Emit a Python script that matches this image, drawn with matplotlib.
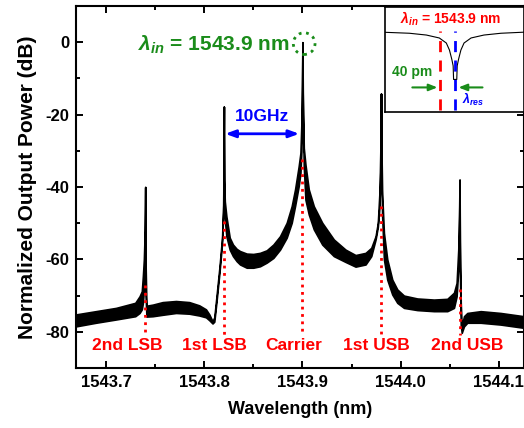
"""Electro-optic comb spectrum with carrier and sidebands, plus resonance inset."""

import matplotlib
matplotlib.use('Agg')
import matplotlib.pyplot as plt
from matplotlib.patches import Ellipse
from matplotlib.ticker import MultipleLocator, FormatStrFormatter

plt.rcParams['font.family'] = ['Liberation Sans', 'DejaVu Sans']
plt.rcParams['font.weight'] = 'bold'
plt.rcParams['axes.labelweight'] = 'bold'
plt.rcParams['axes.unicode_minus'] = False
plt.rcParams['mathtext.fontset'] = 'custom'
plt.rcParams['mathtext.it'] = 'Liberation Sans:italic:bold'
plt.rcParams['mathtext.rm'] = 'Liberation Sans:bold'

# spectrum envelope (nm, upper dB, lower dB)
wl = [1543.6695, 1543.6898, 1543.7102, 1543.7298, 1543.7342, 1543.7365, 1543.7376,
      1543.7386, 1543.7395, 1543.7400, 1543.7404, 1543.7412, 1543.7476, 1543.7577,
      1543.7713, 1543.7848, 1543.7950, 1543.8018, 1543.8052, 1543.8085, 1543.8103,
      1543.8126, 1543.8156, 1543.8182, 1543.8194, 1543.8200, 1543.8203, 1543.8210,
      1543.8226, 1543.8260, 1543.8293, 1543.8331, 1543.8365, 1543.8433, 1543.8500,
      1543.8568, 1543.8636, 1543.8704, 1543.8772, 1543.8840, 1543.8891, 1543.8925,
      1543.8962, 1543.8980, 1543.8990, 1543.8996, 1543.9000, 1543.9004, 1543.9014,
      1543.9031, 1543.9065, 1543.9116, 1543.9202, 1543.9320, 1543.9439, 1543.9541,
      1543.9643, 1543.9701, 1543.9745, 1543.9768, 1543.9786, 1543.9795, 1543.9800,
      1543.9805, 1543.9812, 1543.9830, 1543.9864, 1543.9915, 1543.9966, 1544.0034,
      1544.0170, 1544.0339, 1544.0475, 1544.0543, 1544.0570, 1544.0587, 1544.0595,
      1544.0600, 1544.0603, 1544.0612, 1544.0622, 1544.0645, 1544.0679, 1544.0815,
      1544.1018, 1544.1255]
upper = [-75.2, -74.3, -73.4, -72.0, -70.2, -68.8, -64.6,
         -60.0, -52.0, -40.0, -62.0, -72.8, -72.5, -71.8,
         -71.5, -71.8, -72.7, -73.8, -75.2, -77.1, -76.0,
         -70.0, -62.0, -54.0, -45.0, -17.8, -38.0, -44.0,
         -48.1, -54.0, -55.9, -57.1, -57.7, -58.4, -58.5,
         -58.2, -57.5, -55.9, -53.6, -49.9, -45.3, -40.7,
         -34.3, -30.6, -22.3, -12.0, 0.0, -14.0, -29.2,
         -33.8, -40.7, -45.3, -49.9, -54.5, -57.3, -58.8,
         -58.2, -56.8, -53.6, -49.9, -40.7, -28.0, -14.2,
         -30.0, -42.0, -52.7, -60.0, -65.6, -68.3, -70.0,
         -70.8, -71.1, -70.9, -69.2, -66.5, -57.3, -48.0,
         -38.0, -55.0, -72.0, -78.5, -75.7, -74.8, -74.3,
         -74.8, -75.7]
lower = [-78.5, -77.5, -76.6, -75.7, -74.8, -73.8, -72.0,
         -68.3, -62.0, -40.0, -70.0, -75.8, -75.7, -75.3,
         -74.8, -75.0, -75.5, -76.0, -76.8, -77.7, -77.2,
         -71.5, -63.5, -55.5, -47.0, -17.8, -42.0, -49.0,
         -53.6, -57.3, -59.1, -60.5, -61.4, -62.3, -62.3,
         -61.9, -60.9, -59.6, -57.3, -54.0, -49.9, -45.3,
         -39.8, -36.1, -30.0, -20.0, 0.0, -20.0, -34.3,
         -43.5, -47.6, -51.7, -55.9, -59.1, -60.7, -62.0,
         -61.4, -59.1, -54.5, -51.0, -45.0, -34.0, -14.2,
         -38.0, -48.0, -60.0, -65.6, -69.7, -72.0, -73.4,
         -74.0, -74.3, -74.3, -73.4, -70.2, -62.8, -54.0,
         -38.0, -62.0, -78.0, -80.3, -78.5, -77.5, -77.5,
         -78.0, -78.9]

# carrier and sidebands
sb_names = ['2nd LSB', '1st LSB', 'Carrier', '1st USB', '2nd USB']
sb_wl = [1543.74, 1543.82, 1543.90, 1543.98, 1544.06]
sb_line_top = [-67.0, -49.4, -32.4, -45.3, -68.3]
sb_label_x = [1543.722, 1543.810, 1543.8915, 1543.9757, 1544.0673]

# inset: ring resonance (pm offset from resonance, normalized transmission)
res_pm = [-190, -124, -78, -43, -24, -15.5, -9, -5.5, -4.3,
          4.3, 5.5, 9, 15.5, 24, 43, 78, 124, 185]
res_t = [0.759, 0.75, 0.733, 0.705, 0.657, 0.59, 0.50, 0.44, 0.31,
         0.31, 0.44, 0.50, 0.59, 0.657, 0.705, 0.733, 0.75, 0.76]

RED = '#ff0000'
BLUE = '#0000ff'
GREEN = '#1a8c1a'

fig = plt.figure(figsize=(5.24, 4.28), dpi=100)
ax = fig.add_axes([76 / 524, 1 - 368 / 428, 447.5 / 524, 362 / 428])

ax.fill_between(wl, lower, upper, facecolor='black', edgecolor='black', linewidth=1.2)

for x, top in zip(sb_wl, sb_line_top):
    ax.plot([x, x], [top, -81], color=RED, linestyle=':', linewidth=2)
for name, x in zip(sb_names, sb_label_x):
    ax.text(x, -83.8, name, color=RED, fontsize=12.5, ha='center', va='center')

ax.text(1543.7329, -0.6, r'$\lambda_{in}$ = 1543.9 nm', color=GREEN, fontsize=15,
        ha='left', va='center')
ax.add_patch(Ellipse((1543.9018, -0.4), 0.0221, 6.0, fill=False, edgecolor=GREEN,
                     linestyle=':', linewidth=2))

ax.annotate('', xy=(sb_wl[2] - 0.0032, -25.3), xytext=(sb_wl[1] + 0.0014, -25.3),
            arrowprops=dict(arrowstyle='<|-|>,head_length=0.6,head_width=0.22',
                            color=BLUE, lw=2, shrinkA=0, shrinkB=0))
ax.text(1543.8592, -20.4, '10GHz', color=BLUE, fontsize=12.5, ha='center', va='center')

ax.set_xlim(1543.6695, 1544.1251)
ax.set_ylim(-90, 10)
ax.xaxis.set_major_locator(MultipleLocator(0.1))
ax.xaxis.set_minor_locator(MultipleLocator(0.05))
ax.xaxis.set_major_formatter(FormatStrFormatter('%.1f'))
ax.yaxis.set_major_locator(MultipleLocator(20))
ax.yaxis.set_minor_locator(MultipleLocator(10))
ax.tick_params(which='both', direction='in', top=True, right=True, width=1.4,
               labelsize=12, pad=5)
ax.tick_params(which='major', length=4.8)
ax.tick_params(which='minor', length=2.9)
for s in ax.spines.values():
    s.set_linewidth(1.5)

ax.set_xlabel('Wavelength (nm)', fontsize=13, labelpad=8)
ax.set_ylabel('Normalized Output Power (dB)', fontsize=15, labelpad=6)

# inset
ins = fig.add_axes([385 / 524, 1 - 112 / 428, 138.5 / 524, 105 / 428])
ins.plot(res_pm, res_t, color='black', linewidth=0.8)
ins.axvline(-40, ymin=0.02, ymax=0.77, color=RED, linestyle=(0, (4, 3)), linewidth=2)
ins.axvline(0, ymin=0.02, ymax=0.77, color=BLUE, linestyle=(0, (4, 3)), linewidth=2)
ins.annotate('', xy=(-48, 0.234), xytext=(-116, 0.234),
             arrowprops=dict(arrowstyle='-|>,head_length=0.5,head_width=0.2',
                             color=GREEN, lw=1.5, shrinkA=0, shrinkB=0))
ins.annotate('', xy=(9, 0.234), xytext=(74, 0.234),
             arrowprops=dict(arrowstyle='-|>,head_length=0.5,head_width=0.2',
                             color=GREEN, lw=1.5, shrinkA=0, shrinkB=0))
ins.text(0.475, 0.885, r'$\lambda_{in}$ = 1543.9 nm', color=RED, fontsize=10,
         ha='center', va='center', transform=ins.transAxes)
ins.text(0.05, 0.385, '40 pm', color=GREEN, fontsize=10, ha='left', va='center',
         transform=ins.transAxes)
ins.text(0.556, 0.115, r'$\lambda_{res}$', color=BLUE, fontsize=9, ha='left',
         va='center', transform=ins.transAxes)
ins.set_xlim(-190, 185)
ins.set_ylim(0, 1)
ins.set_xticks([])
ins.set_yticks([])
for s in ins.spines.values():
    s.set_linewidth(1.2)

fig.savefig('out.png', dpi=100)
